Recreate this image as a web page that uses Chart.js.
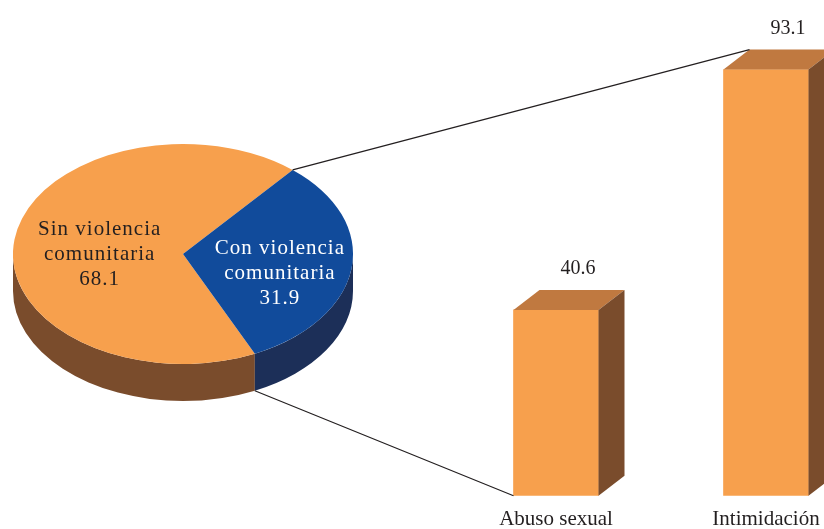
<!DOCTYPE html>
<html>
<head>
<meta charset="utf-8">
<script src="https://cdn.jsdelivr.net/npm/chart.js@4.4.0/dist/chart.umd.min.js"></script>
<style>
html, body { margin: 0; padding: 0; background: #fff; overflow: hidden; width: 824px; height: 529px; }
#pie-wrap { position: absolute; }
#bar-wrap { position: absolute; left: 0; top: 0; }
</style>
</head>
<body>
<div id="pie-wrap"><canvas id="pie-chart" width="340" height="340"></canvas></div>
<div id="bar-wrap"><canvas id="bar-chart" width="900" height="535"></canvas></div>
<script>
// data
const pieLabels = [['Sin violencia', 'comunitaria'], ['Con violencia', 'comunitaria']];
const pieValues = [68.1, 31.9];
const barLabels = ['Abuso sexual', 'Intimidación'];
const barValues = [40.6, 93.1];

const PIE_LEFT = 13, PIE_TOP = 84;
const orange = '#f7a04d', orangeSide = '#7a4c2c', orangeTop = '#c07940';
const blue = '#114b9b', blueSide = '#1c2f58';
const textColor = '#231f20';
const serif = '"Liberation Serif", "Times New Roman", serif';

document.getElementById('pie-wrap').style.left = PIE_LEFT + 'px';
document.getElementById('pie-wrap').style.top = PIE_TOP + 'px';

// flattened pie with an extruded rim
const pie3d = {
    id: 'pie3d',
    beforeDatasetsDraw(chart, args, opts) {
        const ctx = chart.ctx;
        const arcs = chart.getDatasetMeta(0).data;
        const cx = arcs[0].x, cy = arcs[0].y;
        const rx = arcs[0].outerRadius, ry = rx * opts.ratio;
        arcs.forEach((arc, i) => {
            for (let k = -1; k <= 1; k++) {
                const a0 = Math.max(arc.startAngle, 2 * Math.PI * k);
                const a1 = Math.min(arc.endAngle, 2 * Math.PI * k + Math.PI);
                if (a1 <= a0) continue;
                ctx.beginPath();
                ctx.ellipse(cx, cy, rx, ry, 0, a0, a1);
                ctx.ellipse(cx, cy + opts.depth, rx, ry, 0, a1, a0, true);
                ctx.closePath();
                ctx.fillStyle = opts.sideColors[i];
                ctx.fill();
            }
        });
        ctx.save();
        ctx.translate(cx, cy);
        ctx.scale(1, opts.ratio);
        ctx.translate(-cx, -cy);
    },
    afterDatasetsDraw(chart, args, opts) {
        const ctx = chart.ctx;
        ctx.restore();
        const arcs = chart.getDatasetMeta(0).data;
        const cx = arcs[0].x, cy = arcs[0].y;
        const rx = arcs[0].outerRadius, ry = rx * opts.ratio;
        ctx.save();
        ctx.font = '21px ' + serif;
        ctx.letterSpacing = '1px';
        ctx.textAlign = 'center';
        ctx.textBaseline = 'middle';
        pieValues.forEach((v, i) => {
            const lines = pieLabels[i].concat([v.toFixed(1)]);
            const x = cx + rx * opts.labelPos[i][0];
            const y = cy + ry * opts.labelPos[i][1];
            ctx.fillStyle = opts.labelColors[i];
            lines.forEach((t, j) => {
                ctx.fillText(t, x, y + (j - 1) * 25);
            });
        });
        ctx.restore();
    }
};

const pieChart = new Chart(document.getElementById('pie-chart'), {
    type: 'pie',
    data: {
        labels: pieLabels.map(l => l.join(' ')),
        datasets: [{
            data: pieValues,
            backgroundColor: [orange, blue],
            borderWidth: 0,
            clip: false
        }]
    },
    options: {
        responsive: false,
        animation: false,
        devicePixelRatio: 1,
        events: [],
        rotation: 155,
        layout: { padding: 0 },
        plugins: {
            legend: { display: false },
            tooltip: { enabled: false },
            pie3d: {
                ratio: 0.647,
                depth: 37,
                sideColors: [orangeSide, blueSide],
                labelColors: [textColor, '#ffffff'],
                labelPos: [[-0.49, 0], [0.57, 0.18]]
            }
        }
    },
    plugins: [pie3d]
});

// boxes with top and side faces, plus the connector lines to the pie
const bar3d = {
    id: 'bar3d',
    afterDatasetsDraw(chart, args, opts) {
        const ctx = chart.ctx;
        const dx = opts.dx, dy = opts.dy;
        chart.getDatasetMeta(0).data.forEach((bar, i) => {
            const l = bar.x - bar.width / 2, r = bar.x + bar.width / 2;
            const t = bar.y, b = bar.base;
            ctx.fillStyle = opts.topColor;
            ctx.beginPath();
            ctx.moveTo(l, t); ctx.lineTo(l + dx, t + dy); ctx.lineTo(r + dx, t + dy); ctx.lineTo(r, t);
            ctx.closePath();
            ctx.fill();
            ctx.fillStyle = opts.sideColor;
            ctx.beginPath();
            ctx.moveTo(r, t); ctx.lineTo(r + dx, t + dy); ctx.lineTo(r + dx, b + dy); ctx.lineTo(r, b);
            ctx.closePath();
            ctx.fill();

            ctx.fillStyle = textColor;
            ctx.font = '20px ' + serif;
            ctx.textAlign = 'center';
            ctx.textBaseline = 'alphabetic';
            ctx.fillText(barValues[i].toFixed(1), bar.x + dx * 0.85, t + dy - 16);
        });
    },
    afterDraw(chart, args, opts) {
        const ctx = chart.ctx;
        const pieOpts = pieChart.options.plugins.pie3d;
        const arc = pieChart.getDatasetMeta(0).data[1];
        const cx = arc.x + PIE_LEFT, cy = arc.y + PIE_TOP;
        const rx = arc.outerRadius, ry = rx * pieOpts.ratio;
        const bars = chart.getDatasetMeta(0).data;

        const p1 = [cx + rx * Math.cos(arc.startAngle), cy + ry * Math.sin(arc.startAngle)];
        const p2 = [cx + rx * Math.cos(arc.endAngle), cy + ry * Math.sin(arc.endAngle) + pieOpts.depth];
        const hi = bars[1], lo = bars[0];
        const q1 = [hi.x - hi.width / 2 + opts.dx, hi.y + opts.dy];
        const q2 = [lo.x - lo.width / 2, lo.base];

        ctx.save();
        ctx.strokeStyle = '#231f20';
        ctx.lineWidth = 1.2;
        ctx.beginPath();
        ctx.moveTo(p1[0], p1[1]); ctx.lineTo(q1[0], q1[1]);
        ctx.moveTo(p2[0], p2[1]); ctx.lineTo(q2[0], q2[1]);
        ctx.stroke();
        ctx.restore();
    }
};

const barChart = new Chart(document.getElementById('bar-chart'), {
    type: 'bar',
    data: {
        labels: barLabels,
        datasets: [{
            data: barValues,
            backgroundColor: orange,
            borderWidth: 0,
            barThickness: 85
        }]
    },
    options: {
        responsive: false,
        animation: false,
        devicePixelRatio: 1,
        events: [],
        layout: { padding: { left: 451, right: 29, top: 38, bottom: 0 } },
        plugins: {
            legend: { display: false },
            tooltip: { enabled: false },
            bar3d: { dx: 26, dy: -20, topColor: orangeTop, sideColor: orangeSide }
        },
        scales: {
            x: {
                grid: { display: false, tickLength: 8 },
                border: { display: false },
                ticks: {
                    color: textColor,
                    maxRotation: 0,
                    font: { family: serif, size: 21 }
                }
            },
            y: { display: false, min: 0, max: 100 }
        }
    },
    plugins: [bar3d]
});
</script>
</body>
</html>
